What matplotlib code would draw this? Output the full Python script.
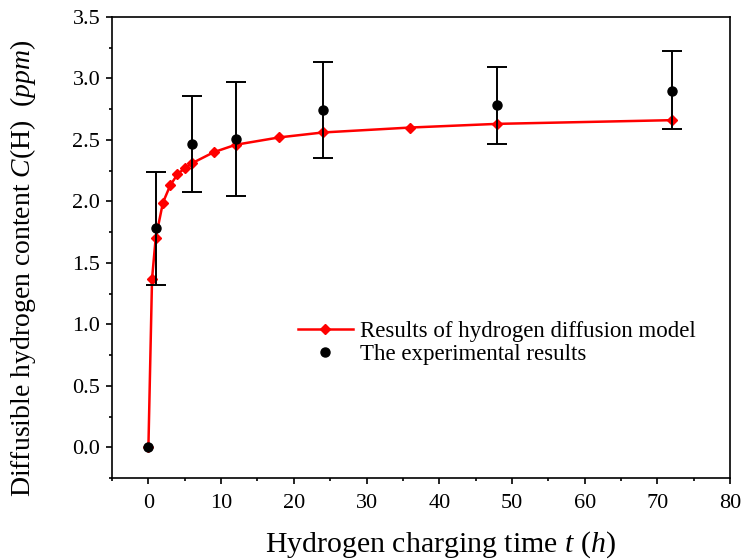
import numpy as np
import matplotlib.pyplot as plt
from matplotlib.ticker import MultipleLocator

plt.rcParams['font.family'] = ['Liberation Serif', 'DejaVu Serif']
plt.rcParams['mathtext.fontset'] = 'custom'
plt.rcParams['mathtext.rm'] = 'Liberation Serif'
plt.rcParams['mathtext.it'] = 'Liberation Serif:italic'

# model results (red curve)
t_model = [0, 0.5, 1, 2, 3, 4, 5, 6, 9, 12, 18, 24, 36, 48, 72]
c_model = [0, 1.37, 1.70, 1.99, 2.13, 2.22, 2.27, 2.31, 2.40, 2.46, 2.52, 2.56, 2.60, 2.63, 2.66]

# experimental results with error bars
t_exp = [0, 1, 6, 12, 24, 48, 72]
c_exp = [0, 1.78, 2.47, 2.51, 2.74, 2.78, 2.90]
c_low = [0, 1.32, 2.08, 2.04, 2.35, 2.47, 2.59]
c_high = [0, 2.24, 2.86, 2.97, 3.13, 3.09, 3.22]

c_exp = np.array(c_exp)
yerr = np.array([c_exp - np.array(c_low), np.array(c_high) - c_exp])

fig = plt.figure(figsize=(7.42, 5.6), dpi=100)
ax = fig.add_axes([0.151, 0.146, 0.833, 0.824])

ax.plot(t_model, c_model, color='red', lw=1.8, marker='D', ms=5.5,
        label='Results of hydrogen diffusion model', zorder=2)
# the point at t=0 has no error bar
ax.errorbar(t_exp[1:], c_exp[1:], yerr=yerr[:, 1:], fmt='none', ecolor='black',
            elinewidth=1.4, capsize=7, capthick=1.4, zorder=3)
ax.plot(t_exp, c_exp, 'o', color='black', ms=6.5, ls='none',
        label='The experimental results', zorder=4)

ax.set_xlim(-5, 80)
ax.set_ylim(-0.25, 3.5)
ax.xaxis.set_major_locator(MultipleLocator(10))
ax.xaxis.set_minor_locator(MultipleLocator(5))
ax.yaxis.set_major_locator(MultipleLocator(0.5))
ax.yaxis.set_minor_locator(MultipleLocator(0.25))
ax.yaxis.set_major_formatter(plt.FormatStrFormatter('%.1f'))
ax.tick_params(which='both', direction='out', labelsize=16, width=1.2)
ax.tick_params(axis='x', which='both', pad=7)
ax.tick_params(axis='y', which='both', pad=4)
ax.tick_params(which='major', length=4.5)
ax.tick_params(which='minor', length=2.5)
for s in ax.spines.values():
    s.set_linewidth(1.2)

ax.set_xlabel('Hydrogen charging time $t$ ($h$)', fontsize=21.5)
ax.set_ylabel('Diffusible hydrogen content $C$(H)  ($ppm$)', fontsize=20)
ax.xaxis.set_label_coords(0.532, -0.11)
ax.yaxis.set_label_coords(-0.12, 0.455)

ax.legend(loc='lower right', bbox_to_anchor=(0.977, 0.2), frameon=False,
          fontsize=16.5, handlelength=2.4, handletextpad=0.3, labelspacing=0.1)

fig.savefig('out.png', dpi=100)
